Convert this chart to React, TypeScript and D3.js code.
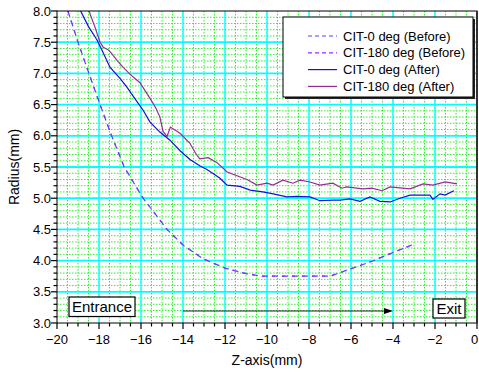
import React from 'react'
import * as d3 from 'd3'

// CIT-0 / CIT-180 before (dashed, both almost on top of each other)
const zBefore = [-19.48, -19.0, -18.48, -17.95, -17.4, -16.8, -15.9, -15.1, -14.76, -14.0, -13.05, -12.0, -11.0, -10.2, -7.0, -6.0, -5.0, -4.0, -3.1]
const rBefore = [8.0, 7.5, 7.0, 6.5, 6.0, 5.5, 5.0, 4.65, 4.5, 4.25, 4.03, 3.88, 3.79, 3.75, 3.75, 3.87, 3.99, 4.13, 4.25]

// CIT-0 deg (After)
const z0After = [-18.95, -18.5, -18.1, -17.8, -17.48, -17.0, -16.67, -16.3, -15.9, -15.57, -15.1, -14.62, -14.14, -13.67, -13.2, -12.86, -12.5, -12.24, -11.9, -11.29, -10.8, -10.2, -9.7, -9.05, -8.57, -7.95, -7.48, -6.86, -6.52, -6.05, -5.57, -5.1, -4.62, -4.14, -3.67, -3.19, -2.24, -2.1, -1.76, -1.52, -1.1]
const r0After = [8.05, 7.75, 7.54, 7.33, 7.1, 6.92, 6.78, 6.6, 6.41, 6.22, 6.06, 5.93, 5.76, 5.62, 5.52, 5.46, 5.38, 5.32, 5.21, 5.19, 5.13, 5.1, 5.07, 5.02, 5.03, 5.02, 4.96, 4.97, 4.97, 4.99, 4.95, 5.02, 4.95, 4.94, 5.0, 5.05, 5.05, 4.98, 5.07, 5.05, 5.12]

// CIT-180 deg (After)
const z180After = [-18.5, -18.2, -17.95, -17.8, -17.57, -17.4, -17.14, -16.86, -16.5, -16.05, -15.57, -15.3, -15.1, -14.95, -14.76, -14.6, -14.14, -13.67, -13.4, -13.2, -12.8, -12.38, -11.9, -11.43, -10.95, -10.48, -10.0, -9.71, -9.24, -8.76, -8.43, -7.95, -7.48, -6.86, -6.43, -6.2, -5.43, -5.0, -4.52, -4.14, -3.19, -2.57, -2.1, -1.52, -0.95]
const r180After = [8.02, 7.75, 7.5, 7.42, 7.38, 7.32, 7.21, 7.1, 6.98, 6.85, 6.6, 6.45, 6.3, 6.07, 5.99, 6.14, 6.04, 5.88, 5.72, 5.63, 5.65, 5.57, 5.42, 5.36, 5.3, 5.21, 5.24, 5.21, 5.29, 5.24, 5.29, 5.26, 5.21, 5.24, 5.16, 5.18, 5.15, 5.16, 5.12, 5.18, 5.15, 5.23, 5.21, 5.26, 5.23]

const legendLabels = ['CIT-0 deg (Before)', 'CIT-180 deg (Before)', 'CIT-0 deg (After)', 'CIT-180 deg (After)']
const legendColors = ['#4646ff', '#9a2cff', '#1010e0', '#982a98']
const legendDashed = [true, true, false, false]

const xMajor = d3.range(-20, 0.01, 2)
const xMinor = d3.range(-20, 0.01, 0.5)
const yMajor = d3.range(3, 8.01, 0.5)
const yMinor = d3.range(3, 8.01, 0.1)

const W = 479
const H = 372
const left = 57
const right = 477
const top = 11
const bottom = 323
const font = '"Liberation Sans", Arial, sans-serif'

export default function App() {
  const x = d3.scaleLinear().domain([-20, 0]).range([left, right])
  const y = d3.scaleLinear().domain([3, 8]).range([bottom, top])

  const line = d3.line<[number, number]>().x(d => x(d[0])).y(d => y(d[1]))
  const before = line(zBefore.map((z, i) => [z, rBefore[i]]))
  const after0 = line(z0After.map((z, i) => [z, r0After[i]]))
  const after180 = line(z180After.map((z, i) => [z, r180After[i]]))

  const isMajor = (v: number, step: number) => Math.abs(v / step - Math.round(v / step)) < 1e-6

  return (
    <svg width={W} height={H} style={{ position: 'absolute', left: 0, top: 0, background: '#fff' }} fontFamily={font}>
      <defs>
        <clipPath id="plot">
          <rect x={left} y={top} width={right - left} height={bottom - top} />
        </clipPath>
      </defs>

      {/* minor grid */}
      {xMinor.filter(v => !isMajor(v, 2)).map((v, i) => (
        <line key={'xm' + i} x1={x(v)} x2={x(v)} y1={top} y2={bottom} stroke="#2ef02e" strokeWidth={1} strokeDasharray="1.5 1.5" />
      ))}
      {yMinor.filter(v => !isMajor(v, 0.5)).map((v, i) => (
        <line key={'ym' + i} x1={left} x2={right} y1={y(v)} y2={y(v)} stroke="#2ef02e" strokeWidth={1} strokeDasharray="1.5 1.5" />
      ))}
      {/* major grid */}
      {xMajor.slice(1, -1).map((v, i) => (
        <line key={'xM' + i} x1={x(v)} x2={x(v)} y1={top} y2={bottom} stroke="#00ffff" strokeWidth={1.5} />
      ))}
      {yMajor.slice(1, -1).map((v, i) => (
        <line key={'yM' + i} x1={left} x2={right} y1={y(v)} y2={y(v)} stroke="#00ffff" strokeWidth={1.8} />
      ))}

      {/* curves */}
      <g clipPath="url(#plot)" fill="none">
        <path d={before || ''} stroke={legendColors[0]} strokeWidth={1.2} strokeDasharray="6 4" />
        <path d={before || ''} stroke={legendColors[1]} strokeWidth={1.2} strokeDasharray="3 7" />
        <path d={after0 || ''} stroke={legendColors[2]} strokeWidth={1.2} />
        <path d={after180 || ''} stroke={legendColors[3]} strokeWidth={1.2} />
      </g>

      {/* frame */}
      <rect x={left} y={top} width={right - left} height={bottom - top} fill="none" stroke="#000" strokeWidth={1} />
      <line x1={right} x2={right} y1={top} y2={bottom} stroke="#333" strokeWidth={2} />

      {/* x axis ticks */}
      {xMinor.map((v, i) => (
        <line key={'xt' + i} x1={x(v)} x2={x(v)} y1={bottom} y2={bottom + (isMajor(v, 2) ? 6 : 3.5)} stroke="#000" strokeWidth={1.2} />
      ))}
      {xMajor.map((v, i) => (
        <text key={'xl' + i} x={Math.min(x(v), 474.5)} y={bottom + 21} fontSize={13} textAnchor="middle" fill="#000">{d3.format('d')(v)}</text>
      ))}
      {/* y axis ticks */}
      {yMinor.map((v, i) => (
        <line key={'yt' + i} x1={left} x2={left - (isMajor(v, 0.5) ? 6 : 3.5)} y1={y(v)} y2={y(v)} stroke="#000" strokeWidth={1.2} />
      ))}
      {yMajor.map((v, i) => (
        <text key={'yl' + i} x={left - 6} y={y(v) + 4.5} fontSize={13} textAnchor="end" fill="#000">{d3.format('.1f')(v)}</text>
      ))}

      {/* axis titles */}
      <text x={(left + right) / 2} y={365} fontSize={14} textAnchor="middle">Z-axis(mm)</text>
      <text transform={`translate(19,${(top + bottom) / 2}) rotate(-90)`} fontSize={14} textAnchor="middle">Radius(mm)</text>

      {/* legend */}
      <rect x={285} y={19} width={190} height={80} fill="#222" />
      <rect x={283} y={17} width={190} height={80} fill="#fff" stroke="#000" strokeWidth={1} />
      {legendLabels.map((l, i) => {
        const ly = 36 + i * 16.8
        return (
          <g key={'lg' + i}>
            <line x1={308} x2={337} y1={ly} y2={ly} stroke={legendColors[i]} strokeWidth={1.2} strokeDasharray={legendDashed[i] ? '4 3' : undefined} />
            <text x={343} y={ly + 4.5} fontSize={13}>{l}</text>
          </g>
        )
      })}

      {/* entrance / exit annotations */}
      <rect x={69} y={297} width={66} height={19.5} fill="#fff" stroke="#000" strokeWidth={1.2} />
      <text x={102} y={312} fontSize={15} textAnchor="middle">Entrance</text>
      <rect x={433} y={299} width={32} height={19} fill="#fff" stroke="#000" strokeWidth={1.2} />
      <text x={449} y={314} fontSize={15} textAnchor="middle">Exit</text>
      <line x1={x(-14)} x2={x(-4) - 7} y1={311} y2={311} stroke="#222" strokeWidth={1} />
      <path d={`M${x(-4)},311 L${x(-4) - 9},308 L${x(-4) - 9},314 Z`} fill="#000" />
    </svg>
  )
}
